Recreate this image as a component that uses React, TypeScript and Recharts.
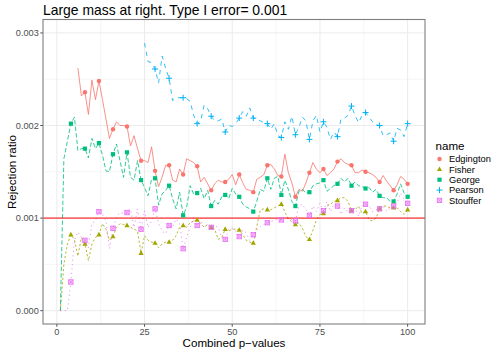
import { LineChart, Line, XAxis, YAxis, CartesianGrid, ReferenceLine } from 'recharts';

// combined p-values (x axis categories)
const pValues = [
  1, 2, 3, 4, 5, 6, 7, 8, 9, 10,
  11, 12, 13, 14, 15, 16, 17, 18, 19, 20,
  21, 22, 23, 24, 25, 26, 27, 28, 29, 30,
  31, 32, 33, 34, 35, 36, 37, 38, 39, 40,
  41, 42, 43, 44, 45, 46, 47, 48, 49, 50,
  51, 52, 53, 54, 55, 56, 57, 58, 59, 60,
  61, 62, 63, 64, 65, 66, 67, 68, 69, 70,
  71, 72, 73, 74, 75, 76, 77, 78, 79, 80,
  81, 82, 83, 84, 85, 86, 87, 88, 89, 90,
  91, 92, 93, 94, 95, 96, 97, 98, 99, 100,
];

// rejection ratios, in units of 0.001 (null = not computed)
const edgington = [
  null, null, null, null, null, 2.62, 2.32, 2.36, 2.12, 2.49,
  2.28, 2.48, 2.28, 2.07, 1.86, 1.96, 2.04, 2.0, 2.0, 1.99,
  1.78, 1.89, 1.75, 1.62, 1.62, 1.6, 1.77, 1.51, 1.34, 1.44,
  1.57, 1.57, 1.41, 1.39, 1.53, 1.47, 1.64, 1.62, 1.6, 1.56,
  1.39, 1.44, 1.37, 1.3, 1.37, 1.41, 1.39, 1.39, 1.42, 1.47,
  1.36, 1.47, 1.38, 1.31, 1.3, 1.28, 1.42, 1.44, 1.47, 1.57,
  1.58, 1.53, 1.46, 1.45, 1.69, 1.49, 1.38, 1.23, 1.31, 1.29,
  1.38, 1.49, 1.6, 1.53, 1.49, 1.53, 1.46, 1.49, 1.53, 1.61,
  1.64, 1.6, 1.58, 1.57, 1.49, 1.49, 1.52, 1.5, 1.49, 1.47,
  1.44, 1.39, 1.46, 1.4, 1.35, 1.3, 1.36, 1.45, 1.42, 1.37,
];

const fisher = [
  0, 0.5, 0.72, 0.82, 0.77, 0.59, 0.79, 0.72, 0.54, 0.72,
  0.79, 0.82, 0.94, 0.88, 0.76, 0.8, 0.9, 0.94, 0.93, 0.92,
  0.9, 0.88, 0.86, 0.62, 0.81, 0.76, 0.74, 0.73, 0.68, 0.72,
  0.74, 0.74, 0.76, 0.81, 0.9, 0.92, 0.9, 0.95, 0.97, 0.98,
  0.94, 0.9, 0.93, 0.9, 0.88, 0.77, 0.79, 0.88, 0.86, 0.88,
  0.88, 0.87, 0.82, 0.76, 0.74, 0.73, 0.91, 1.09, 1.1, 1.09,
  1.09, 1.11, 1.13, 1.15, 1.07, 0.99, 0.96, 0.93, 0.95, 0.89,
  0.8, 0.77, 0.87, 0.98, 1.04, 1.05, 1.13, 1.15, 1.18, 1.19,
  1.22, 1.22, 1.18, 1.08, 1.09, 1.13, 1.05, 1.07, 0.98, 0.97,
  1.0, 1.1, 1.13, 1.13, 1.11, 1.11, 1.11, 1.07, 1.04, 1.09,
];

const george = [
  0, 1.64, 1.83, 2.02, 2.09, 1.73, 1.75, 1.75, 1.65, 1.86,
  1.75, 1.81, 1.68, 1.51, 1.5, 1.69, 1.8, 1.62, 1.44, 1.71,
  1.44, 1.41, 1.62, 1.41, 1.33, 1.24, 1.42, 1.43, 1.14, 1.26,
  1.3, 1.35, 1.21, 1.1, 1.28, 1.03, 1.12, 1.35, 1.26, 1.27,
  1.32, 1.21, 1.3, 1.13, 1.19, 1.15, 1.23, 1.25, 1.21, 1.32,
  1.26, 1.23, 1.15, 1.12, 1.1, 1.07, 1.18, 1.31, 1.29, 1.43,
  1.31, 1.43, 1.45, 1.25, 1.41, 1.31, 1.18, 1.13, 1.29, 1.31,
  1.27, 1.28, 1.35, 1.37, 1.38, 1.41, 1.29, 1.32, 1.35, 1.37,
  1.43, 1.39, 1.43, 1.35, 1.39, 1.35, 1.34, 1.32, 1.33, 1.28,
  1.31, 1.24, 1.22, 1.22, 1.18, 1.18, 1.26, 1.37, 1.27, 1.23,
];

const pearson = [
  null, null, null, null, null, null, null, null, null, null,
  null, null, null, null, null, null, null, null, null, null,
  null, null, null, null, 2.89, 2.69, 2.68, 2.61, 2.46, 2.75,
  2.62, 2.51, 2.27, 2.3, 2.3, 2.3, 2.29, 2.26, 2.11, 2.02,
  2.05, 2.22, 2.18, 2.1, 2.05, 2.05, 2.07, 1.93, 2.0, 1.99,
  2.02, 2.08, 2.15, 2.1, 2.19, 2.08, 2.07, 2.05, 2.03, 2.02,
  1.96, 2.02, 1.89, 1.87, 2.04, 1.96, 2.1, 1.9, 1.98, 2.09,
  2.05, 1.85, 2.05, 2.11, 1.93, 2.04, 1.98, 1.85, 1.93, 1.88,
  2.07, 2.08, 2.11, 2.21, 2.11, 2.03, 2.11, 2.14, 2.09, 2.04,
  2.01, 2.0, 1.89, 1.9, 1.92, 1.83, 1.97, 1.95, 1.88, 2.02,
];

const stouffer = [
  0, 0, 0, 0.31, 0.76, 0.85, 0.79, 0.76, 0.68, 0.94,
  0.97, 1.07, 1.04, 0.97, 0.67, 0.89, 1.01, 1.06, 1.05, 1.06,
  1.1, 0.9, 1.1, 0.88, 1.08, 0.9, 0.97, 1.1, 0.94, 0.86,
  0.83, 0.92, 0.9, 0.99, 0.94, 0.67, 0.79, 0.9, 1.01, 0.92,
  0.97, 0.9, 0.94, 0.9, 0.92, 0.9, 0.79, 0.77, 0.88, 0.89,
  0.86, 0.8, 0.87, 0.84, 0.76, 0.82, 0.87, 0.91, 0.93, 0.95,
  0.96, 0.98, 0.99, 0.98, 1.02, 1.0, 0.98, 0.97, 1.13, 1.15,
  1.09, 1.03, 1.13, 1.07, 1.16, 1.08, 1.18, 1.07, 1.15, 1.13,
  1.04, 1.11, 1.07, 1.08, 1.11, 1.02, 1.13, 1.15, 1.13, 1.07,
  1.09, 1.1, 1.13, 1.07, 1.11, 1.13, 1.16, 1.27, 1.2, 1.16,
];

const seriesNames = ['Edgington', 'Fisher', 'George', 'Pearson', 'Stouffer'];
const xTicks = [0, 25, 50, 75, 100];
const xMinor = [12.5, 37.5, 62.5, 87.5];
const yTicks = [0, 0.001, 0.002, 0.003];
const yMinor = [0.0005, 0.0015, 0.0025];
const typeIError = 0.001;

const seriesValues: Record<string, (number | null)[]> = {
  Edgington: edgington,
  Fisher: fisher,
  George: george,
  Pearson: pearson,
  Stouffer: stouffer,
};

const styles: Record<string, { color: string; dash?: string; shape: string }> = {
  Edgington: { color: '#F8766D', shape: 'circle' },
  Fisher: { color: '#A3A500', dash: '2.2 2.2', shape: 'triangle' },
  George: { color: '#00BF7D', dash: '4.4 2.2', shape: 'square' },
  Pearson: { color: '#00B0F6', dash: '4.4 4.4', shape: 'plus' },
  Stouffer: { color: '#E76BF3', dash: '1.1 3.3', shape: 'boxx' },
};

const data = pValues.map((p, i) => {
  const row: Record<string, number | null> = { p };
  seriesNames.forEach((n) => {
    const v = seriesValues[n][i];
    row[n] = v == null ? null : v / 1000;
  });
  return row;
});

const FONT = '"Liberation Sans", Arial, Helvetica, sans-serif';

function Marker({ shape, x, y, color }: { shape: string; x: number; y: number; color: string }) {
  switch (shape) {
    case 'circle':
      return <circle cx={x} cy={y} r={2.2} fill={color} />;
    case 'triangle':
      return <polygon points={`${x},${y - 2.9} ${x - 2.6},${y + 1.7} ${x + 2.6},${y + 1.7}`} fill={color} />;
    case 'square':
      return <rect x={x - 2.1} y={y - 2.1} width={4.2} height={4.2} fill={color} />;
    case 'plus':
      return <path d={`M${x - 3},${y}H${x + 3}M${x},${y - 3}V${y + 3}`} stroke={color} strokeWidth={1} fill="none" />;
    default:
      return (
        <g>
          <rect x={x - 2.2} y={y - 2.2} width={4.4} height={4.4} fill={color} fillOpacity={0.35} stroke={color} strokeWidth={0.8} />
          <path d={`M${x - 2.2},${y - 2.2}L${x + 2.2},${y + 2.2}M${x + 2.2},${y - 2.2}L${x - 2.2},${y + 2.2}`} stroke={color} strokeWidth={0.6} />
        </g>
      );
  }
}

const makeDot = (name: string) => (props: any) => {
  const { cx, cy, payload } = props;
  const k = `${name}-${payload.p}`;
  if (payload[name] == null || payload.p % 4 !== 0 || cx == null || cy == null) return <g key={k} />;
  const s = styles[name];
  return (
    <g key={k}>
      <Marker shape={s.shape} x={cx} y={cy} color={s.color} />
    </g>
  );
};

const App = () => {
  return (
    <div style={{ position: 'absolute', left: 0, top: 0, width: 498, height: 353, background: '#fff', fontFamily: FONT }}>
      <LineChart
        width={498}
        height={353}
        data={data}
        margin={{ top: 19.5, right: 73, left: 0, bottom: 0 }}
      >
        <CartesianGrid
          horizontalValues={yMinor}
          verticalValues={xMinor}
          stroke="#ebebeb"
          strokeWidth={0.5}
        />
        <CartesianGrid
          horizontalValues={yTicks}
          verticalValues={xTicks}
          stroke="#ebebeb"
          strokeWidth={1}
        />
        <XAxis
          dataKey="p"
          type="number"
          domain={[-3.95, 104.95]}
          ticks={xTicks}
          allowDataOverflow
          height={29}
          axisLine={false}
          tickSize={2.7}
          tickMargin={1.5}
          tickLine={{ stroke: '#4d4d4d' }}
          tick={{ fontSize: 9.2, fill: '#4d4d4d', fontFamily: FONT }}
        />
        <YAxis
          type="number"
          domain={[-0.000144, 0.003145]}
          ticks={yTicks}
          allowDataOverflow
          width={43}
          axisLine={false}
          tickSize={2.7}
          tickMargin={1.5}
          tickLine={{ stroke: '#4d4d4d' }}
          tick={{ fontSize: 9.2, fill: '#4d4d4d', fontFamily: FONT }}
          tickFormatter={(v: number) => v.toFixed(3)}
        />
        {seriesNames.map((n) => (
          <Line
            key={`line-${n}`}
            dataKey={n}
            type="linear"
            stroke={styles[n].color}
            strokeOpacity={0.8}
            strokeWidth={1}
            strokeDasharray={styles[n].dash}
            dot={false}
            activeDot={false}
            isAnimationActive={false}
          />
        ))}
        {seriesNames.map((n) => (
          <Line
            key={`pts-${n}`}
            dataKey={n}
            type="linear"
            stroke="none"
            dot={makeDot(n)}
            activeDot={false}
            legendType="none"
            isAnimationActive={false}
          />
        ))}
        <ReferenceLine y={typeIError} stroke="#ff0000" strokeWidth={1} />
      </LineChart>
      <svg
        width={498}
        height={353}
        style={{ position: 'absolute', left: 0, top: 0, pointerEvents: 'none' }}
        fontFamily={FONT}
      >
        <rect x={43} y={19.5} width={382} height={304.5} fill="none" stroke="#7f7f7f" strokeWidth={1.1} />
        <text x={43} y={14.5} fontSize={13.9} fill="#000">
          Large mass at right. Type I error= 0.001
        </text>
        <text x={234} y={346.5} fontSize={11.6} fill="#000" textAnchor="middle">
          Combined p−values
        </text>
        <text x={15.5} y={172} fontSize={11.6} fill="#000" textAnchor="middle" transform="rotate(-90 15.5 172)">
          Rejection ratio
        </text>
        <text x={435.5} y={150} fontSize={11.6} fill="#000">
          name
        </text>
        {seriesNames.map((n, i) => {
          const cy = 159 + i * 10.35;
          return (
            <g key={`leg-${n}`}>
              <Marker shape={styles[n].shape} x={439.5} y={cy} color={styles[n].color} />
              <text x={449} y={cy + 3.2} fontSize={9.3} fill="#000">
                {n}
              </text>
            </g>
          );
        })}
      </svg>
    </div>
  );
};

export default App;
